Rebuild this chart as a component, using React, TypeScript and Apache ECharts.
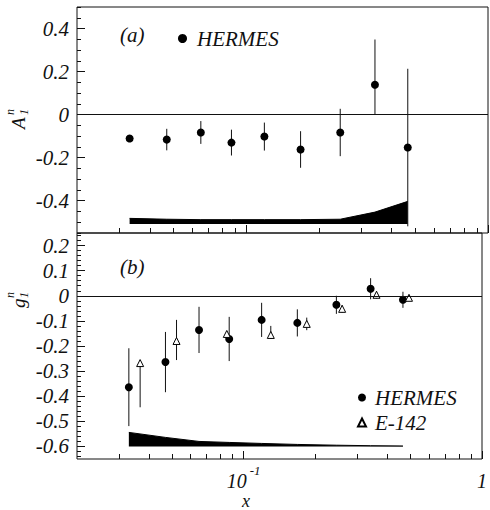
import React, { useEffect, useRef } from "react";
import * as echarts from "echarts";

// ---- data ----
// HERMES x bins
const xHermes = [0.033, 0.047, 0.065, 0.087, 0.119, 0.168, 0.245, 0.341, 0.466];
// panel (a): A1^n
const a1n = [-0.111, -0.116, -0.083, -0.13, -0.102, -0.162, -0.083, 0.139, -0.153];
const a1nErrUp = [0.012, 0.05, 0.053, 0.06, 0.065, 0.085, 0.11, 0.21, 0.366];
const a1nErrDown = [0.012, 0.05, 0.053, 0.06, 0.065, 0.085, 0.11, 0.14, 0.366];
const a1nSysBase = -0.508;
const a1nSys = [0.026, 0.022, 0.02, 0.02, 0.02, 0.02, 0.022, 0.055, 0.105];
// panel (b): g1^n
const g1nHermes = [-0.364, -0.264, -0.136, -0.172, -0.096, -0.108, -0.036, 0.028, -0.016];
const g1nHermesErr = [0.155, 0.12, 0.092, 0.088, 0.068, 0.054, 0.036, 0.042, 0.032];
const g1nSysBase = -0.6;
const g1nSys = [0.056, 0.036, 0.02, 0.016, 0.012, 0.008, 0.005, 0.003, 0.002];
const xE142 = [0.0368, 0.0523, 0.085, 0.13, 0.184, 0.259, 0.361, 0.494];
const g1nE142 = [-0.268, -0.18, -0.152, -0.156, -0.112, -0.052, 0.004, -0.008];
const g1nE142ErrUp = [0.01, 0.084, 0.01, 0.036, 0.025, 0.015, 0.015, 0.01];
const g1nE142ErrDown = [0.176, 0.076, 0.01, 0.016, 0.025, 0.015, 0.015, 0.01];

// ticks
const xMajorTicks = [0.1, 1];
const xMinorTicks = [0.03, 0.04, 0.05, 0.06, 0.07, 0.08, 0.09, 0.2, 0.3, 0.4, 0.5, 0.6, 0.7, 0.8, 0.9];
const yTicksA = [-0.4, -0.2, 0, 0.2, 0.4];
const yTicksB = [-0.6, -0.5, -0.4, -0.3, -0.2, -0.1, 0, 0.1, 0.2];

function steps(from: number, to: number, step: number): number[] {
  const out: number[] = [];
  const n = Math.round((to - from) / step);
  for (let i = 0; i <= n; i++) out.push(Math.round((from + i * step) * 1000) / 1000);
  return out;
}
const yMinorA = steps(-0.55, 0.5, 0.05);
const yMinorB = steps(-0.64, 0.24, 0.02);

const FONT = "Liberation Serif";
const INK = "#111";

export default function App() {
  const ref = useRef<HTMLDivElement>(null);

  useEffect(() => {
    if (!ref.current) return;
    const chart = echarts.init(ref.current, null, { renderer: "svg" });

    const grids = [
      { left: 77, top: 7, width: 411, height: 226 },
      { left: 77, top: 233, width: 411, height: 226 },
    ];

    const xAxisFor = (gridIndex: number, major: boolean, labels: boolean) => ({
      type: "log",
      logBase: 10,
      min: 0.02,
      max: 1,
      gridIndex,
      position: "bottom",
      offset: 0,
      axisLine: { show: false, onZero: false },
      splitLine: { show: false },
      axisTick: {
        show: true,
        inside: true,
        length: major ? 8 : 5,
        customValues: major ? xMajorTicks : xMinorTicks,
        lineStyle: { color: INK, width: 1 },
      },
      axisLabel: labels
        ? {
            show: true,
            customValues: xMajorTicks,
            margin: 5,
            formatter: (v: number) => (v < 0.5 ? "{b|10}{s|-1}" : "{b|1}"),
            rich: {
              b: {
                fontFamily: FONT,
                fontStyle: "italic",
                fontSize: 20,
                lineHeight: 27,
                verticalAlign: "bottom",
                color: INK,
              },
              s: {
                fontFamily: FONT,
                fontStyle: "italic",
                fontSize: 13,
                lineHeight: 13,
                padding: [0, 0, 0, 3],
                verticalAlign: "top",
                color: INK,
              },
            },
          }
        : { show: false },
    });

    const yAxisFor = (
      gridIndex: number,
      min: number,
      max: number,
      major: boolean,
      ticks: number[]
    ) => ({
      type: "value",
      gridIndex,
      min,
      max,
      position: "left",
      offset: 0,
      axisLine: { show: false, onZero: false },
      splitLine: { show: false },
      axisTick: {
        show: true,
        inside: true,
        length: major ? 8 : 4,
        customValues: ticks,
        lineStyle: { color: INK, width: 1 },
      },
      axisLabel: major
        ? {
            show: true,
            customValues: ticks,
            margin: 8,
            formatter: (v: number) => "{t|" + (Math.abs(v) < 1e-9 ? "0" : v.toFixed(1)) + "}",
            rich: {
              t: {
                fontFamily: FONT,
                fontStyle: "italic",
                fontSize: 21,
                color: INK,
              },
            },
          }
        : { show: false },
    });

    const errSeries = (
      name: string,
      xi: number,
      yi: number,
      xs: number[],
      ys: number[],
      up: number[],
      down: number[]
    ) => ({
      type: "custom",
      name,
      xAxisIndex: xi,
      yAxisIndex: yi,
      silent: true,
      z: 2,
      encode: { x: 0, y: 1 },
      data: xs.map((x, i) => [x, ys[i], down[i], up[i]]),
      renderItem: (_p: any, api: any) => {
        const x = api.value(0);
        const y = api.value(1);
        const lo = api.value(2);
        const hi = api.value(3);
        const p1 = api.coord([x, y + hi]);
        const p2 = api.coord([x, y - lo]);
        return {
          type: "line",
          shape: { x1: p1[0], y1: p1[1], x2: p2[0], y2: p2[1] },
          style: { stroke: INK, lineWidth: 1 },
        };
      },
    });

    const zeroLine = {
      silent: true,
      symbol: "none",
      label: { show: false },
      lineStyle: { color: INK, type: "solid", width: 1 },
      data: [{ yAxis: 0 }],
    };

    const bandSeries = (xi: number, yi: number, base: number, h: number[]) => ({
      type: "line",
      name: "sys",
      xAxisIndex: xi,
      yAxisIndex: yi,
      silent: true,
      symbol: "none",
      z: 1,
      data: xHermes.map((x, i) => [x, base + h[i]]),
      lineStyle: { color: "#000", width: 1 },
      areaStyle: { color: "#000", opacity: 1, origin: base },
    });

    const legendText = (padLeft: number) => ({
      fontFamily: FONT,
      fontStyle: "italic",
      fontSize: 21,
      color: INK,
      padding: [0, 0, 0, padLeft],
    });

    const subLabel = (x: number, y: number, main: string, mainW: number) => ({
      type: "group",
      x,
      y,
      rotation: Math.PI / 2,
      children: [
        {
          type: "text",
          x: 0,
          y: 0,
          style: {
            text: main,
            font: `italic 19px "${FONT}"`,
            fill: INK,
            textAlign: "left",
            textVerticalAlign: "middle",
          },
        },
        {
          type: "text",
          x: mainW,
          y: -8,
          style: {
            text: "n",
            font: `italic 12px "${FONT}"`,
            fill: INK,
            textAlign: "left",
            textVerticalAlign: "middle",
          },
        },
        {
          type: "text",
          x: mainW,
          y: 6,
          style: {
            text: "1",
            font: `italic 12px "${FONT}"`,
            fill: INK,
            textAlign: "left",
            textVerticalAlign: "middle",
          },
        },
      ],
    });

    const option: any = {
      animation: false,
      backgroundColor: "#fff",
      grid: grids.map((g) => ({ ...g, show: true, borderColor: INK, borderWidth: 1, backgroundColor: "transparent" })),
      xAxis: [
        xAxisFor(0, true, false),
        xAxisFor(0, false, false),
        xAxisFor(1, true, true),
        xAxisFor(1, false, false),
      ],
      yAxis: [
        yAxisFor(0, -0.55, 0.5, true, yTicksA),
        yAxisFor(0, -0.55, 0.5, false, yMinorA),
        yAxisFor(1, -0.65, 0.25, true, yTicksB),
        yAxisFor(1, -0.65, 0.25, false, yMinorB),
      ],
      legend: [
        {
          data: [{ name: "HERMES", icon: "circle" }],
          left: 178,
          top: 28,
          padding: 0,
          itemWidth: 9,
          itemHeight: 9,
          selectedMode: false,
          textStyle: legendText(5),
        },
        {
          data: [
            { name: "HERMES", icon: "circle" },
            { name: "E-142", icon: "triangle" },
          ],
          orient: "vertical",
          left: 357,
          top: 387,
          padding: 0,
          itemGap: 4,
          itemWidth: 8,
          itemHeight: 8,
          selectedMode: false,
          textStyle: legendText(4),
        },
      ],
      graphic: [
        {
          type: "text",
          x: 120,
          y: 35,
          style: { text: "(a)", font: `italic 21px "${FONT}"`, fill: INK, textAlign: "left", textVerticalAlign: "middle" },
        },
        {
          type: "text",
          x: 120,
          y: 267,
          style: { text: "(b)", font: `italic 21px "${FONT}"`, fill: INK, textAlign: "left", textVerticalAlign: "middle" },
        },
        {
          type: "text",
          x: 246,
          y: 501,
          style: { text: "x", font: `italic 18px "${FONT}"`, fill: INK, textAlign: "center", textVerticalAlign: "middle" },
        },
        subLabel(18, 129, "A", 14),
        subLabel(18, 308, "g", 10),
      ],
      series: [
        bandSeries(0, 0, a1nSysBase, a1nSys),
        bandSeries(2, 2, g1nSysBase, g1nSys),
        errSeries("errA", 0, 0, xHermes, a1n, a1nErrUp, a1nErrDown),
        errSeries("errBH", 2, 2, xHermes, g1nHermes, g1nHermesErr, g1nHermesErr),
        errSeries("errBE", 2, 2, xE142, g1nE142, g1nE142ErrUp, g1nE142ErrDown),
        {
          type: "scatter",
          name: "HERMES",
          xAxisIndex: 0,
          yAxisIndex: 0,
          symbol: "circle",
          symbolSize: 8,
          z: 3,
          itemStyle: { color: "#000", opacity: 1 },
          data: xHermes.map((x, i) => [x, a1n[i]]),
          markLine: zeroLine,
        },
        {
          type: "scatter",
          name: "HERMES",
          xAxisIndex: 2,
          yAxisIndex: 2,
          symbol: "circle",
          symbolSize: 8,
          z: 3,
          itemStyle: { color: "#000", opacity: 1 },
          data: xHermes.map((x, i) => [x, g1nHermes[i]]),
          markLine: zeroLine,
        },
        {
          type: "scatter",
          name: "E-142",
          xAxisIndex: 2,
          yAxisIndex: 2,
          symbol: "triangle",
          symbolSize: 7,
          z: 4,
          itemStyle: { color: "#fff", borderColor: "#000", borderWidth: 1, opacity: 1 },
          data: xE142.map((x, i) => [x, g1nE142[i]]),
        },
      ],
    };

    chart.setOption(option);
    return () => chart.dispose();
  }, []);

  return (
    <div
      ref={ref}
      style={{ position: "absolute", left: 0, top: 0, width: 490, height: 510, background: "#fff" }}
    />
  );
}
